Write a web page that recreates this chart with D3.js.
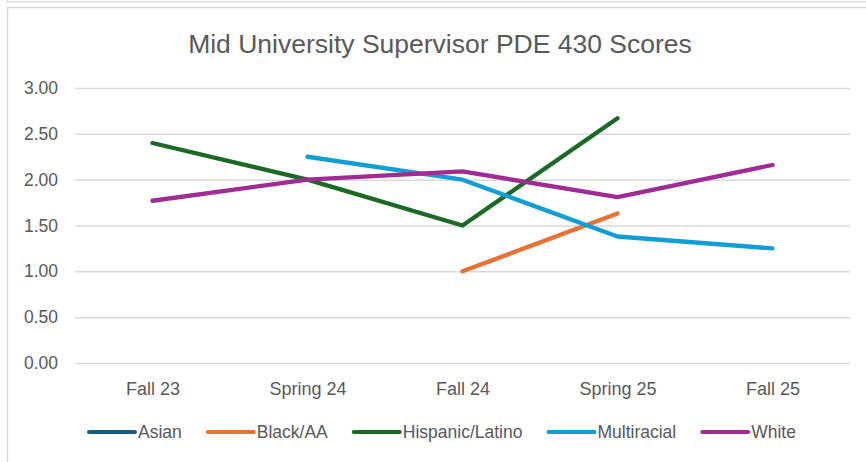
<!DOCTYPE html>
<html>
<head>
<meta charset="utf-8">
<script src="https://cdn.jsdelivr.net/npm/d3@7"></script>
<style>
  body { margin: 0; background: #fff; }
  svg { display: block; }
  text { fill: #595959; }
</style>
</head>
<body>
<div id="chart"></div>
<script>
// values
var categories = ['Fall 23', 'Spring 24', 'Fall 24', 'Spring 25', 'Fall 25'];
var seriesNames = ['Asian', 'Black/AA', 'Hispanic/Latino', 'Multiracial', 'White'];
var seriesColors = ['#156082', '#E97132', '#196B24', '#0F9ED5', '#A02B93'];
var asian = [null, null, null, null, null];
var blackAA = [null, null, 1.00, 1.63, null];
var hispanic = [2.40, 2.00, 1.50, 2.67, null];
var multiracial = [null, 2.25, 2.00, 1.38, 1.25];
var white = [1.77, 2.00, 2.09, 1.81, 2.16];
var yTicks = [0, 0.5, 1, 1.5, 2, 2.5, 3];
var title = 'Mid University Supervisor PDE 430 Scores';

var width = 866, height = 462;
var plot = {left: 75, right: 850, top: 88, bottom: 363};
var font = '"Liberation Sans", Arial, sans-serif';

var svg = d3.select('#chart').append('svg')
  .attr('width', width)
  .attr('height', height);

// frame lines
svg.append('path')
  .attr('d', 'M7.5,0 V2 H866 M7.5,462 V7.5 H866')
  .attr('fill', 'none')
  .attr('stroke', '#d9d9d9')
  .attr('stroke-width', 1.5);

var x = d3.scalePoint().domain(categories)
  .range([plot.left, plot.right]).padding(0.5);
var y = d3.scaleLinear().domain([0, 3]).range([plot.bottom, plot.top]);

// title
svg.append('text')
  .attr('x', 440).attr('y', 53)
  .attr('text-anchor', 'middle')
  .style('font-family', font)
  .style('font-size', '26.5px')
  .text(title);

// gridlines + y labels
var yAxis = d3.axisLeft(y).tickValues(yTicks)
  .tickSize(-(plot.right - plot.left))
  .tickPadding(17)
  .tickFormat(d3.format('.2f'));
var gy = svg.append('g')
  .attr('transform', 'translate(' + plot.left + ',0)')
  .call(yAxis);
gy.select('.domain').remove();
gy.selectAll('line').attr('stroke', '#d9d9d9').attr('stroke-width', 1.5);
gy.selectAll('text')
  .style('font-family', font)
  .style('font-size', '17.5px')
  .attr('fill', '#595959');

// x labels
var xAxis = d3.axisBottom(x).tickSize(0).tickPadding(19);
var gx = svg.append('g')
  .attr('transform', 'translate(0,' + plot.bottom + ')')
  .call(xAxis);
gx.select('.domain').remove();
gx.selectAll('text')
  .style('font-family', font)
  .style('font-size', '18px')
  .attr('fill', '#595959');

// lines
var allSeries = [asian, blackAA, hispanic, multiracial, white];
var line = d3.line()
  .defined(function (d) { return d != null; })
  .x(function (d, i) { return x(categories[i]); })
  .y(function (d) { return y(d); });

allSeries.forEach(function (vals, i) {
  svg.append('path')
    .datum(vals)
    .attr('d', line)
    .attr('fill', 'none')
    .attr('stroke', seriesColors[i])
    .attr('stroke-width', 4.3)
    .attr('stroke-linecap', 'round')
    .attr('stroke-linejoin', 'round');
});

// legend
var lx = 89, ly = 432;
seriesNames.forEach(function (name, i) {
  var g = svg.append('g').attr('transform', 'translate(' + lx + ',' + ly + ')');
  g.append('line')
    .attr('x1', 0).attr('x2', 46)
    .attr('stroke', seriesColors[i])
    .attr('stroke-width', 4)
    .attr('stroke-linecap', 'round');
  var t = g.append('text')
    .attr('x', 49).attr('dy', '0.36em')
    .style('font-family', font)
    .style('font-size', '17.5px')
    .text(name);
  lx += 49 + t.node().getComputedTextLength() + 26;
});
</script>
</body>
</html>
